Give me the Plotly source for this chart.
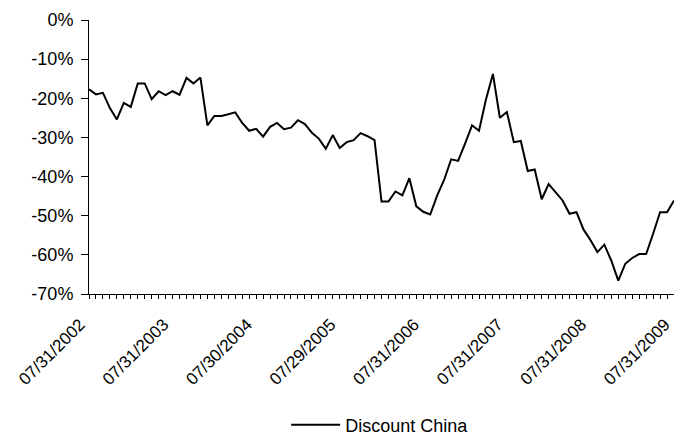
import pandas as pd
import plotly.graph_objects as go

# Month-end (business day) observation dates, Jul 2002 - Jul 2009
try:
    month_ends = pd.date_range("2002-07-01", "2009-07-31", freq="BME")
except ValueError:
    month_ends = pd.date_range("2002-07-01", "2009-07-31", freq="BM")
dates = [d.strftime("%m/%d/%Y") for d in month_ends]

# Discount, in percent
discount_china = [
    -17.7, -19.0, -18.6, -22.5, -25.4, -21.2, -22.2, -16.2, -16.2, -20.2,
    -18.2, -19.2, -18.2, -19.1, -14.8, -16.2, -14.7, -26.9, -24.5, -24.5,
    -24.1, -23.6, -26.3, -28.3, -27.8, -29.8, -27.3, -26.3, -27.9, -27.5,
    -25.6, -26.6, -28.8, -30.3, -32.9, -29.4, -32.7, -31.2, -30.7, -28.9,
    -29.7, -30.7, -46.4, -46.4, -43.8, -44.8, -40.4, -47.6, -49.0, -49.7,
    -44.8, -40.8, -35.6, -36.0, -31.6, -26.9, -28.3, -20.3, -13.8, -25.0,
    -23.5, -31.2, -30.9, -38.6, -38.2, -45.8, -41.9, -44.1, -46.1, -49.5,
    -49.1, -53.5, -56.2, -59.3, -57.4, -61.5, -66.6, -62.3, -60.8, -59.8,
    -59.8, -54.6, -49.1, -49.1, -46.1,
]

x_tick_labels = ["07/31/2002", "07/31/2003", "07/30/2004", "07/29/2005",
                 "07/31/2006", "07/31/2007", "07/31/2008", "07/31/2009"]
y_tick_values = [0, -10, -20, -30, -40, -50, -60, -70]
y_tick_labels = ["0%", "-10%", "-20%", "-30%", "-40%", "-50%", "-60%", "-70%"]

FONT = "Liberation Sans, Arial, sans-serif"

fig = go.Figure(
    go.Scatter(
        x=dates,
        y=discount_china,
        mode="lines",
        name="Discount China",
        line=dict(color="black", width=2),
    )
)

fig.update_layout(
    width=674,
    height=436,
    margin=dict(l=89, r=0, t=20, b=142),
    paper_bgcolor="white",
    plot_bgcolor="white",
    font=dict(family=FONT, size=17, color="black"),
    showlegend=True,
    legend=dict(
        orientation="h",
        x=0.337,
        xanchor="left",
        yref="container",
        y=0.025,
        yanchor="middle",
        itemwidth=49,
        font=dict(size=18),
    ),
)

fig.update_xaxes(
    type="category",
    range=[0, len(dates) - 1],
    tickvals=dates,
    ticktext=[d if d in x_tick_labels else "" for d in dates],
    tickangle=-45,
    ticklabelshift=-9,
    ticklabelstandoff=9,
    ticks="outside",
    ticklen=4,
    tickcolor="black",
    showline=True,
    linecolor="black",
    linewidth=1,
    showgrid=False,
    zeroline=False,
)

fig.update_yaxes(
    range=[-70, 0],
    tickvals=y_tick_values,
    ticktext=y_tick_labels,
    tickfont=dict(size=18),
    ticklabelstandoff=4,
    ticks="outside",
    ticklen=7,
    tickcolor="black",
    showline=True,
    linecolor="black",
    linewidth=1,
    showgrid=False,
    zeroline=False,
)

fig.write_html("out.html")
